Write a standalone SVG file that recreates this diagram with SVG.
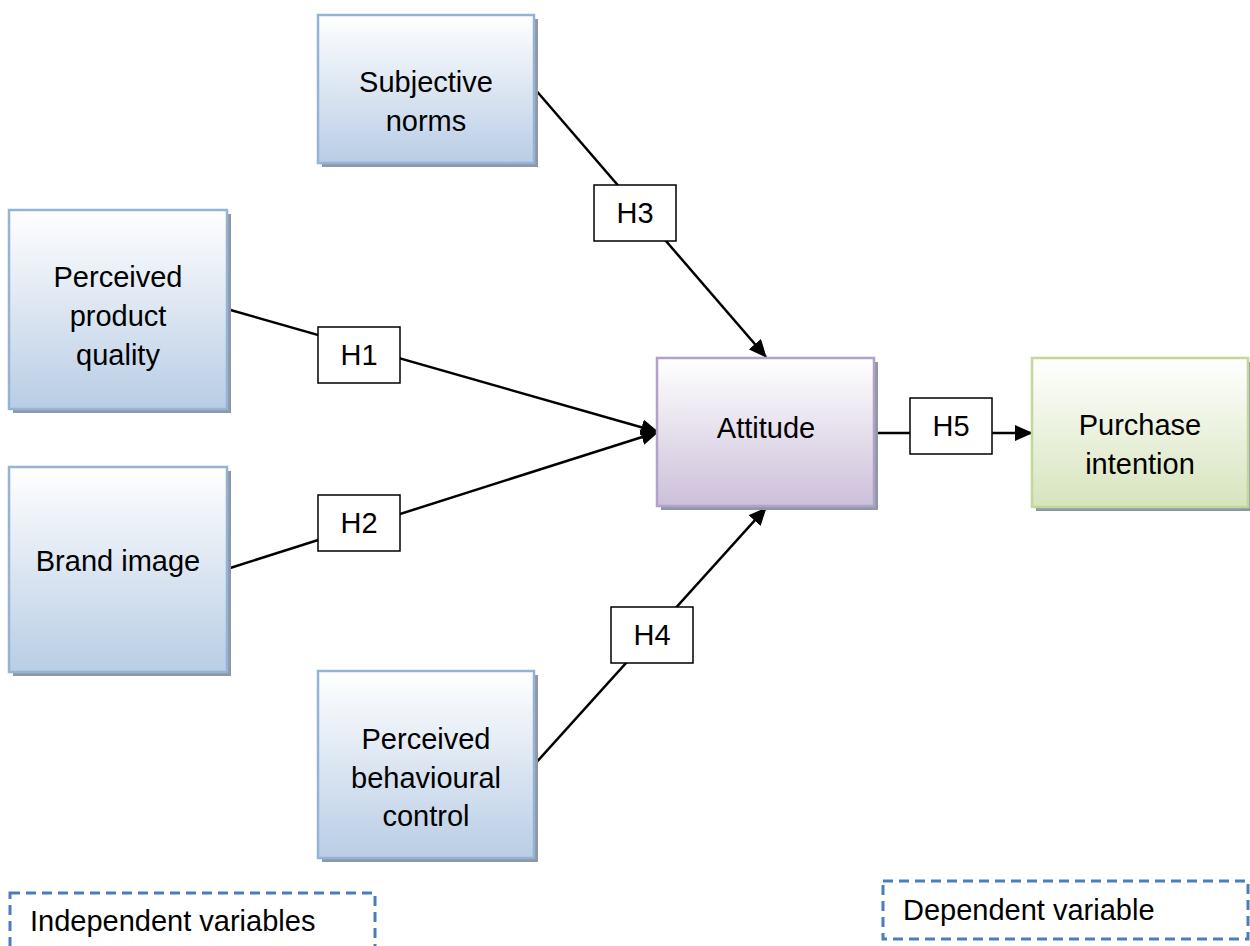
<svg xmlns="http://www.w3.org/2000/svg" width="1250" height="946" viewBox="0 0 1250 946">
  <style>
    text { font-family: "Liberation Sans", Arial, sans-serif; font-size: 29px; fill: #000; text-anchor: middle; }
    .shadow { fill: #8e99a8; }
    .ind { fill: url(#gBlue); stroke: #95b3d7; stroke-width: 2.5; }
    .att { fill: url(#gPurple); stroke: #b3a2c7; stroke-width: 2.5; }
    .dep { fill: url(#gGreen); stroke: #c3d69b; stroke-width: 2.5; }
    .link { stroke: #000; stroke-width: 2.5; fill: none; }
    .tag { fill: #fff; stroke: #000; stroke-width: 1.5; }
    .legend { fill: none; stroke: #4a7ebb; stroke-width: 3; stroke-dasharray: 10 6; }
    .left { text-anchor: start; }
  </style>
  <defs>
    <linearGradient id="gBlue" x1="0" y1="0" x2="0" y2="1">
      <stop offset="0" stop-color="#ffffff"/>
      <stop offset="1" stop-color="#b9cde5"/>
    </linearGradient>
    <linearGradient id="gPurple" x1="0" y1="0" x2="0" y2="1">
      <stop offset="0" stop-color="#ffffff"/>
      <stop offset="1" stop-color="#ccc0da"/>
    </linearGradient>
    <linearGradient id="gGreen" x1="0" y1="0" x2="0" y2="1">
      <stop offset="0" stop-color="#ffffff"/>
      <stop offset="1" stop-color="#d7e4bd"/>
    </linearGradient>
    <marker id="arrow" markerUnits="userSpaceOnUse" markerWidth="18" markerHeight="16" viewBox="0 0 18 16" refX="17" refY="8" orient="auto">
      <path d="M0,0 L18,8 L0,16 Z" fill="#000"/>
    </marker>
  </defs>

  <!-- connectors with hypothesis tags -->
  <g id="connectors">
    <line class="link" x1="534" y1="88" x2="766" y2="357" marker-end="url(#arrow)"/>
    <line class="link" x1="227" y1="309" x2="658" y2="432" marker-end="url(#arrow)"/>
    <line class="link" x1="227" y1="569" x2="658" y2="432" marker-end="url(#arrow)"/>
    <line class="link" x1="534" y1="765" x2="766" y2="508" marker-end="url(#arrow)"/>
    <line class="link" x1="874" y1="433" x2="1032" y2="433" marker-end="url(#arrow)"/>

    <g id="tag-h3"><rect class="tag" x="594" y="185" width="82" height="56"/><text x="635" y="223">H3</text></g>
    <g id="tag-h1"><rect class="tag" x="318" y="327" width="82" height="56"/><text x="359" y="365">H1</text></g>
    <g id="tag-h2"><rect class="tag" x="318" y="495" width="82" height="56"/><text x="359" y="533">H2</text></g>
    <g id="tag-h4"><rect class="tag" x="611" y="607" width="82" height="56"/><text x="652" y="645">H4</text></g>
    <g id="tag-h5"><rect class="tag" x="910" y="398" width="82" height="56"/><text x="951" y="436">H5</text></g>
  </g>

  <g id="node-subjective-norms">
    <rect class="shadow" x="322" y="19" width="216" height="148"/>
    <rect class="ind" x="318" y="15" width="216" height="148"/>
    <text x="426" y="92">Subjective</text>
    <text x="426" y="131">norms</text>
  </g>

  <g id="node-perceived-product-quality">
    <rect class="shadow" x="13" y="214" width="218" height="199"/>
    <rect class="ind" x="9" y="210" width="218" height="199"/>
    <text x="118" y="287">Perceived</text>
    <text x="118" y="326">product</text>
    <text x="118" y="365">quality</text>
  </g>

  <g id="node-brand-image">
    <rect class="shadow" x="13" y="471" width="218" height="205"/>
    <rect class="ind" x="9" y="467" width="218" height="205"/>
    <text x="118" y="571">Brand image</text>
  </g>

  <g id="node-perceived-behavioural-control">
    <rect class="shadow" x="322" y="675" width="216" height="187"/>
    <rect class="ind" x="318" y="671" width="216" height="187"/>
    <text x="426" y="749">Perceived</text>
    <text x="426" y="788">behavioural</text>
    <text x="426" y="826">control</text>
  </g>

  <g id="node-attitude">
    <rect class="shadow" x="661" y="362" width="217" height="148"/>
    <rect class="att" x="657" y="358" width="217" height="148"/>
    <text x="766" y="438">Attitude</text>
  </g>

  <g id="node-purchase-intention">
    <rect class="shadow" x="1036" y="362" width="214" height="149"/>
    <rect class="dep" x="1032" y="358" width="216" height="149"/>
    <text x="1140" y="435">Purchase</text>
    <text x="1140" y="474">intention</text>
  </g>

  <g id="legend-independent">
    <rect class="legend" x="10" y="893" width="365" height="70"/>
    <text class="left" x="30" y="931">Independent variables</text>
  </g>

  <g id="legend-dependent">
    <rect class="legend" x="883" y="881" width="365" height="58"/>
    <text class="left" x="903" y="920">Dependent variable</text>
  </g>
</svg>
